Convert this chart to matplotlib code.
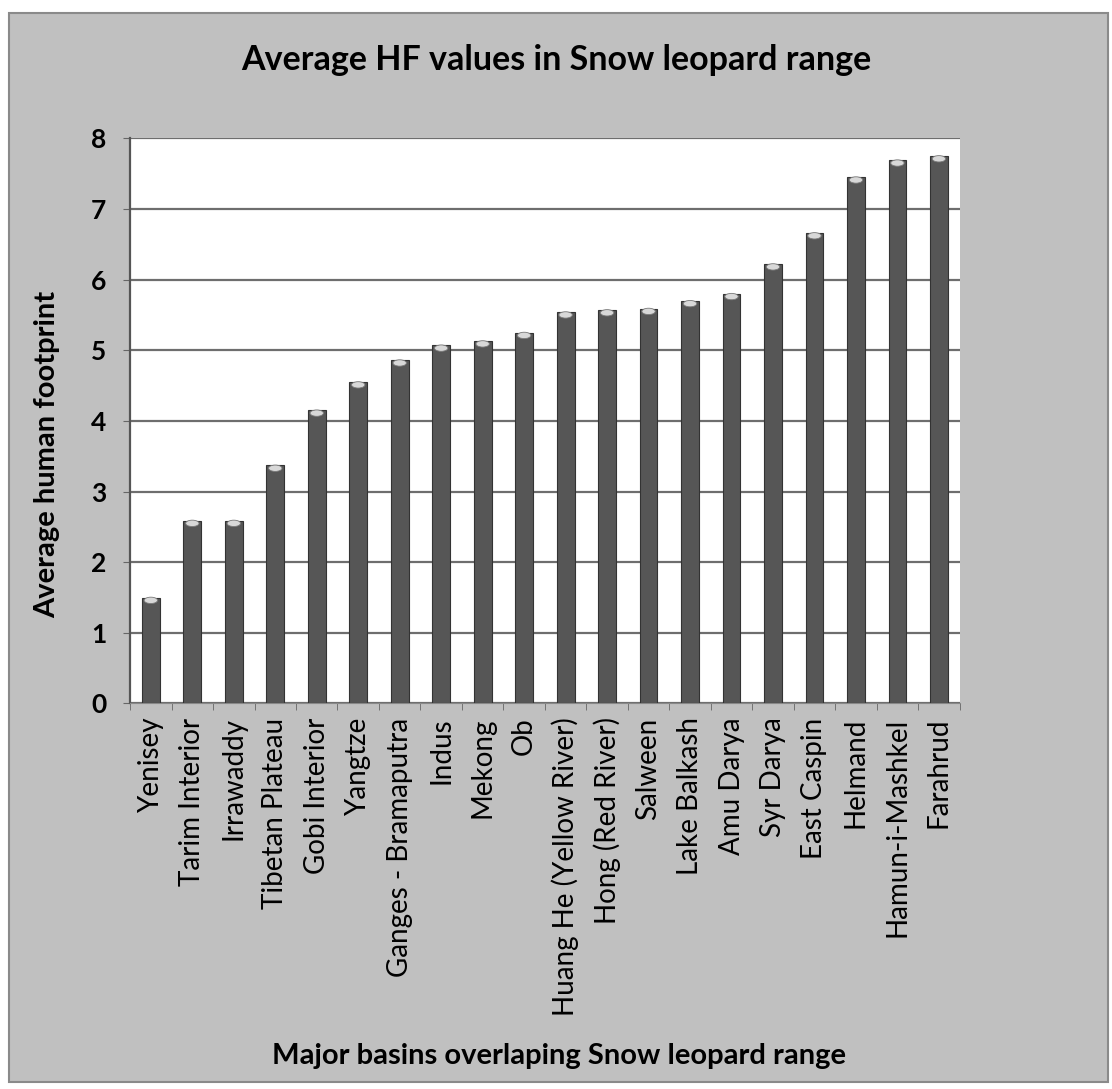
import matplotlib
matplotlib.use("Agg")
import matplotlib.pyplot as plt
from matplotlib.patches import Rectangle, Ellipse
import numpy as np

plt.rcParams['font.family'] = ['Lato', 'DejaVu Sans']

basins = ['Yenisey', 'Tarim Interior', 'Irrawaddy', 'Tibetan Plateau', 'Gobi Interior',
          'Yangtze', 'Ganges - Bramaputra', 'Indus', 'Mekong', 'Ob',
          'Huang He (Yellow River)', 'Hong (Red River)', 'Salween', 'Lake Balkash',
          'Amu Darya', 'Syr Darya', 'East Caspin', 'Helmand', 'Hamun-i-Mashkel', 'Farahrud']
hf_values = [1.50, 2.59, 2.59, 3.37, 4.15, 4.55, 4.86, 5.07, 5.13, 5.25,
             5.54, 5.57, 5.59, 5.70, 5.80, 6.22, 6.66, 7.45, 7.69, 7.75]
y_ticks = [0, 1, 2, 3, 4, 5, 6, 7, 8]

bg = '#c0c0c0'
fig = plt.figure(figsize=(11.12, 10.89), dpi=100)
fig.patch.set_facecolor('white')
# grey chart area with a thin border, kept behind the axes
fig.patches.append(Rectangle((0.008, 0.006), 0.988, 0.982, transform=fig.transFigure,
                             facecolor=bg, edgecolor='#8a8a8a', linewidth=1.5, zorder=-1))

ax = fig.add_axes([0.117, 0.354, 0.746, 0.519])
ax.set_facecolor('white')

x = np.arange(len(basins))
w = 0.43
ax.bar(x, hf_values, width=w, color='#565656', edgecolor='#333333', linewidth=0.8, zorder=3)
# lighter caps on top of the cylinders
for xi, v in zip(x, hf_values):
    ax.add_patch(Ellipse((xi, v - 0.04), w * 0.75, 0.09, facecolor='#d8d8d8',
                         edgecolor='#7a7a7a', linewidth=0.6, zorder=4))

ax.set_xlim(-0.5, len(basins) - 0.5)
ax.set_ylim(0, 8)
ax.set_yticks(y_ticks)
ax.yaxis.grid(True, color='#6e6e6e', linewidth=1.6, zorder=1)
ax.set_axisbelow(True)

ax.set_xticks(x)
ax.set_xticklabels(basins, rotation=90, fontsize=20)
ax.set_xticks(np.arange(-0.5, len(basins)), minor=True)
ax.tick_params(axis='x', which='major', length=0, pad=10)
ax.tick_params(axis='x', which='minor', length=5, color='#666666')
ax.tick_params(axis='y', length=5, color='#666666', labelsize=19, pad=12)
for lab in ax.get_yticklabels():
    lab.set_fontweight('bold')

for s in ['top', 'right']:
    ax.spines[s].set_visible(False)
ax.spines['left'].set_color('#555555')
ax.spines['left'].set_linewidth(1.6)
ax.spines['bottom'].set_color('#888888')

ax.set_ylabel('Average human footprint', fontsize=21, fontweight='bold')
ax.yaxis.set_label_coords(-0.084, 0.44)
fig.text(0.5, 0.945, 'Average HF values in Snow leopard range', ha='center', va='center',
         fontsize=24.5, fontweight='bold')
fig.text(0.503, 0.03, 'Major basins overlaping Snow leopard range', ha='center', va='center',
         fontsize=21, fontweight='bold')

fig.savefig('out.png', dpi=100, facecolor=fig.get_facecolor())
